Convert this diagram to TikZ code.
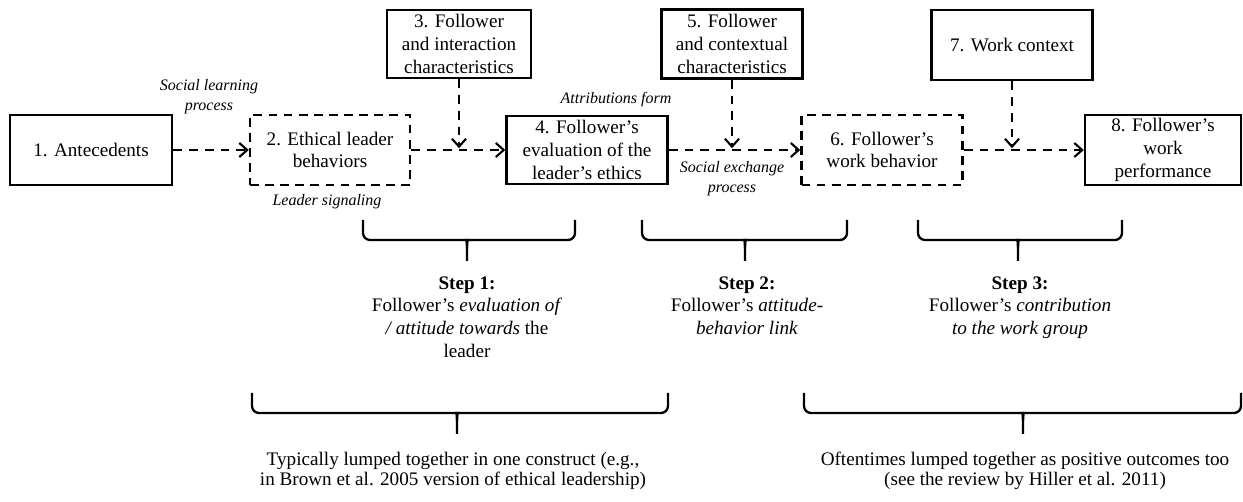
\documentclass[tikz,border=0pt]{standalone}
\usepackage{fontspec}
\setmainfont{Liberation Serif}
\usetikzlibrary{arrows.meta, calc}

\newcommand{\boxfont}{\fontsize{10.9}{13}\selectfont}
\newcommand{\notefont}{\fontsize{9.1}{11.3}\selectfont\itshape}
\newcommand{\sumfont}{\fontsize{10.9}{11.4}\selectfont}

\begin{document}
\begin{tikzpicture}[x=0.02cm, y=-0.02cm,
    >={Straight Barb[length=4.5pt,width=8pt]},
    solidbox/.style={draw, line width=1.4pt, align=center, inner sep=1pt,
        font=\boxfont, minimum height=1.4cm},
    dashbox/.style={solidbox, dash pattern=on 5pt off 3.6pt},
    link/.style={->, line width=1.2pt, dash pattern=on 5pt off 4pt},
    note/.style={align=center, font=\notefont, inner sep=0pt},
    steplabel/.style={align=center, font=\boxfont, inner sep=0pt, anchor=north},
    sumlabel/.style={align=center, font=\sumfont, inner sep=0pt, anchor=north},
    bracket/.style={line width=1.3pt}]
    \useasboundingbox (0,0) rectangle (1243,502);

    % the chain of boxes
    \node[solidbox, minimum width=3.24cm] (ante) at (91,150) {1. Antecedents};
    \node[dashbox, minimum width=3.2cm] (ethic) at (330,150) {2. Ethical leader\\behaviors};
    \node[solidbox, minimum width=2.88cm, minimum height=1.36cm] (inter) at (459,44) {3. Follower\\and interaction\\characteristics};
    \node[solidbox, minimum width=3.22cm, minimum height=1.36cm] (eval) at (587,150) {4. Follower's\\evaluation of the\\leader's ethics};
    \node[solidbox, minimum width=2.82cm, minimum height=1.38cm] (context) at (732,44) {5. Follower\\and contextual\\characteristics};
    \node[dashbox, minimum width=3.22cm] (behav) at (882,150) {6. Follower's\\work behavior};
    \node[solidbox, minimum width=3.22cm] (work) at (1012,45) {7. Work context};
    \node[solidbox, minimum width=3.12cm] (perf) at (1163,150) {8. Follower's\\work\\performance};

    \coordinate (j1) at (inter.south |- ethic.east);
    \coordinate (j2) at (context.south |- eval.east);
    \coordinate (j3) at (work.south |- behav.east);

    % dashed links
    \draw[link] (ante) -- (ethic);
    \draw[link] (ethic.east) -- (eval.west);
    \draw[link] (eval.east) -- (behav.west);
    \draw[link] (behav.east) -- (perf.west);
    \draw[link, shorten >=1pt] (inter) -- (j1);
    \draw[link, shorten >=1pt] (context) -- (j2);
    \draw[link, shorten >=1pt] (work) -- (j3);

    % process labels
    \node[note] (slp) at (209,97) {Social learning\\process};
    \node[note] (lsig) at (327,202) {Leader signaling};
    \node[note] (attr) at (616,100) {Attributions form};
    \node[note] (sxp) at (732,179) {Social exchange\\process};

    % brackets
    \foreach \xa/\xb/\xm/\yt in {363/575/467/220, 642/847/745/220, 918/1122/1018/220,
                                 252/668/457/393, 804/1241/1023/393} {
        \draw[bracket, rounded corners=4pt] (\xa,\yt) -- (\xa,\yt+20) -- (\xm-7,\yt+20)
            [sharp corners] .. controls (\xm-1,\yt+20) and (\xm,\yt+23) .. (\xm,\yt+28) -- (\xm,\yt+41);
        \draw[bracket, rounded corners=4pt] (\xb,\yt) -- (\xb,\yt+20) -- (\xm+7,\yt+20)
            [sharp corners] .. controls (\xm+1,\yt+20) and (\xm,\yt+23) .. (\xm,\yt+28);
    }

    % step texts
    \node[steplabel] (s1) at (467,276) {\textbf{Step 1:}\\Follower's \textit{evaluation of}\\\textit{/ attitude towards} the\\leader};
    \node[steplabel] (s2) at (747,276) {\textbf{Step 2:}\\Follower's \textit{attitude-}\\\textit{behavior link}};
    \node[steplabel] (s3) at (1020,276) {\textbf{Step 3:}\\Follower's \textit{contribution}\\\textit{to the work group}};

    \node[sumlabel] (sum1) at (453,452) {Typically lumped together in one construct (e.g.,\\in Brown et al. 2005 version of ethical leadership)};
    \node[sumlabel] (sum2) at (1025,452) {Oftentimes lumped together as positive outcomes too\\(see the review by Hiller et al. 2011)};
\end{tikzpicture}
\end{document}
